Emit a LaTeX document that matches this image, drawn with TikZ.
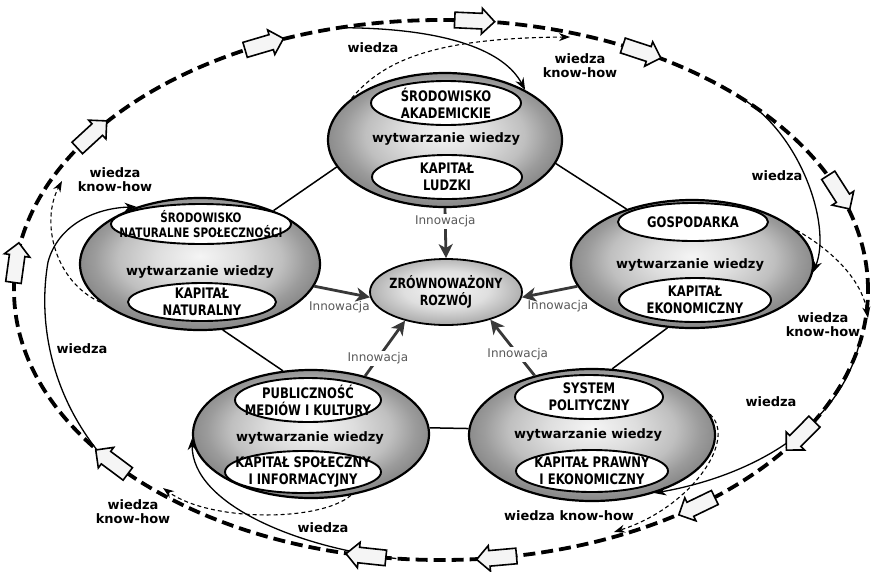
\documentclass[tikz,border=0pt]{standalone}
\usepackage{fontspec}
\setmainfont{DejaVu Sans}
\newfontfamily\capsfont{DejaVu Sans}[FakeStretch=0.8]
\usetikzlibrary{shapes.geometric,shapes.arrows,arrows.meta,calc}
\pgfdeclareradialshading{glossy}{\pgfpoint{0bp}{3bp}}{color(0bp)=(gray!8); color(9bp)=(gray!26); color(17bp)=(gray!50); color(22bp)=(gray!78); color(25bp)=(gray!90); color(50bp)=(gray!90)}
\pgfdeclareradialshading{glossyc}{\pgfpoint{0bp}{3bp}}{color(0bp)=(gray!8); color(14bp)=(gray!25); color(25bp)=(gray!62); color(50bp)=(gray!62)}
\begin{document}
\begin{tikzpicture}[x=1pt,y=-1pt,
  bignode/.style={ellipse, draw=black, line width=2.2pt, shading=glossy, inner sep=0pt},
  cennode/.style={ellipse, draw=black, line width=1.8pt, shading=glossyc, inner sep=0pt, minimum width=152pt, minimum height=66pt},
  innernode/.style={ellipse, draw=black, fill=white, line width=1.9pt, inner sep=0pt},
  captxt/.style={font=\capsfont\bfseries\fontsize{14.5}{17}\selectfont, align=center, inner sep=0pt},
  wyt/.style={font=\bfseries\fontsize{13}{15}\selectfont, inner sep=1pt},
  lab/.style={font=\bfseries\fontsize{13}{14}\selectfont, align=center, inner sep=1pt},
  inn/.style={font=\fontsize{12}{14}\selectfont, text=black!65, inner sep=1.5pt},
  innarrow/.style={draw=black!78, line width=2.8pt, -{Stealth[length=14pt,width=14pt,inset=4pt]}},
  linkline/.style={line width=1.5pt},
  ringline/.style={line width=3.8pt, dash pattern=on 12pt off 6pt},
  flow/.style={line width=1.3pt, -{Stealth[length=12pt,width=9pt]}},
  khflow/.style={line width=1.1pt, dash pattern=on 4pt off 3pt, -{Stealth[length=11pt,width=8pt]}},
  hollow/.style={single arrow, draw=black, fill=gray!8, line width=1.6pt, minimum height=40pt, minimum width=25pt, single arrow head extend=5pt, inner xsep=0pt, inner ysep=7pt}
]
\fill[white] (0,0) rectangle (874,571);
\useasboundingbox (0,0) rectangle (874,571);

% outer ring
\draw[ringline] (441,290) ellipse [x radius=427pt, y radius=270pt];

% big nodes
\node[bignode, minimum width=234pt, minimum height=134pt] (nT) at (445,140) {};
\node[bignode, minimum width=240pt, minimum height=132pt] (nL) at (200,264) {};
\node[bignode, minimum width=242pt, minimum height=128pt] (nR) at (692,264) {};
\node[bignode, minimum width=236pt, minimum height=128pt] (nBL) at (311,434) {};
\node[bignode, minimum width=246pt, minimum height=132pt] (nBR) at (592,435) {};
\node[cennode] (cen) at (446,292) {};
\node[captxt, font=\capsfont\bfseries\fontsize{14}{17}\selectfont] (cenx) at (446,292) {ZRÓWNOWAŻONY\\ROZWÓJ};

% top node
\node[innernode, minimum width=150pt, minimum height=44pt] (tT) at (446,103) {};
\node[captxt] (tTx) at (tT) {ŚRODOWISKO\\AKADEMICKIE};
\node[wyt] (wT) at (446,139) {wytwarzanie wiedzy};
\node[innernode, minimum width=150pt, minimum height=44pt] (tB) at (447,177) {};
\node[captxt] (tBx) at (tB) {KAPITAŁ\\LUDZKI};

% left node
\node[innernode, minimum width=180pt, minimum height=40pt] (lT) at (201,224) {};
\node[captxt, font=\capsfont\bfseries\fontsize{13}{15.5}\selectfont] (lTx) at (lT) {ŚRODOWISKO\\NATURALNE SPOŁECZNOŚCI};
\node[wyt] (wL) at (200,272) {wytwarzanie wiedzy};
\node[innernode, minimum width=148pt, minimum height=38pt] (lB) at (202,302) {};
\node[captxt] (lBx) at (lB) {KAPITAŁ\\NATURALNY};

% right node
\node[innernode, minimum width=150pt, minimum height=38pt] (rT) at (693,222) {};
\node[captxt] (rTx) at (rT) {GOSPODARKA};
\node[wyt] (wR) at (690,265) {wytwarzanie wiedzy};
\node[innernode, minimum width=152pt, minimum height=44pt] (rB) at (695,300) {};
\node[captxt] (rBx) at (rB) {KAPITAŁ\\EKONOMICZNY};

% bottom-left node
\node[innernode, minimum width=146pt, minimum height=44pt] (blT) at (308,400) {};
\node[captxt] (blTx) at (blT) {PUBLICZNOŚĆ\\MEDIÓW I KULTURY};
\node[wyt] (wBL) at (310,438) {wytwarzanie wiedzy};
\node[innernode, minimum width=156pt, minimum height=42pt] (blB) at (303,472) {};
\node[captxt] (blBx) at (blB) {KAPITAŁ SPOŁECZNY\\I INFORMACYJNY};

% bottom-right node
\node[innernode, minimum width=148pt, minimum height=44pt] (brT) at (589,397) {};
\node[captxt] (brTx) at (brT) {SYSTEM\\POLITYCZNY};
\node[wyt] (wBR) at (588,435) {wytwarzanie wiedzy};
\node[innernode, minimum width=152pt, minimum height=42pt] (brB) at (592,471) {};
\node[captxt] (brBx) at (brB) {KAPITAŁ PRAWNY\\I EKONOMICZNY};

% links between nodes
\draw[linkline] (nL.36) -- (nT.194);
\draw[linkline] (nT.348) -- (nR.140);
\draw[linkline] (nL.289) -- (nBL.114);
\draw[linkline] (nR.249) -- (nBR.73);
\draw[linkline] (nBL.3) -- (nBR.177);

% innovation arrows
\draw[innarrow] (nT.south) -- node[inn, fill=white, pos=0.27] (i1) {Innowacja} (cen.north);
\draw[innarrow] (nL.-11) -- (cen.184) node[inn, pos=0.45, below=7pt] (i2) {Innowacja};
\draw[innarrow] (nR.191) -- (cen.-4) node[inn, pos=0.35, below=7pt] (i3) {Innowacja};
\draw[innarrow] (nBL.47) -- node[inn, fill=white, pos=0.32] (i4) {Innowacja} (cen.215);
\draw[innarrow] (nBR.134) -- node[inn, fill=white, pos=0.38] (i5) {Innowacja} (cen.-32);

% ring points
\coordinate (rgT) at ({441+427*cos(103.7)},{290-270*sin(103.7)});
\coordinate (rgR) at ({441+427*cos(45.6)},{290-270*sin(45.6)});
\coordinate (rgBR) at ({441+427*cos(-12)},{290-270*sin(-12)});
\coordinate (rgBL) at ({441+427*cos(-96)},{290-270*sin(-96)});
\coordinate (rgL) at ({441+427*cos(-143.7)},{290-270*sin(-143.7)});
\coordinate (kT) at (570,37);
\coordinate (kR) at (868,318);
\coordinate (kBR) at (614,532);
\coordinate (kBL) at (163,488);
\coordinate (kL) at (62,181);

% wiedza (solid) flows
\draw[flow] (rgT) .. controls (450,28) and (505,52) .. (nT.32);
\draw[flow] (rgR) .. controls (800,132) and (832,225) .. (nR.-4);
\draw[flow] (rgBR) .. controls (835,435) and (740,478) .. (nBR.-43);
\draw[flow] (rgBL) .. controls (300,548) and (192,505) .. (nBL.182);
\draw[flow] (rgL) .. controls (50,390) and (38,320) .. (48,262) .. controls (58,225) and (95,208) .. (nL.138);

% wiedza know-how (dashed) flows
\draw[khflow] (nT.156) .. controls (385,58) and (440,38) .. (kT);
\draw[khflow] (nR.18) .. controls (832,250) and (862,280) .. (kR);
\draw[khflow] (nBR.10) .. controls (738,440) and (690,508) .. (kBR);
\draw[khflow] (nBL.-57) .. controls (320,522) and (210,522) .. (kBL);
\draw[khflow] (nL.201) .. controls (55,282) and (40,222) .. (kL);

% labels
\node[lab] (l1) at (373,48) {wiedza};
\node[lab] (l2) at (580,66) {wiedza\\know-how};
\node[lab] (l3) at (777,176) {wiedza};
\node[lab] (l4) at (823,325) {wiedza\\know-how};
\node[lab] (l5) at (771,402) {wiedza};
\node[lab] (l6) at (569,516) {wiedza know-how};
\node[lab] (l7) at (323,528) {wiedza};
\node[lab] (l8) at (133,512) {wiedza\\know-how};
\node[lab] (l9) at (82,349) {wiedza};
\node[lab] (l10) at (115,180) {wiedza\\know-how};

% hollow arrows on the ring
\foreach \t [count=\i] in {175,145.5,115,86,62.5,22,-32,-52.6,-82,-99.6,-139.8} {
  \node[hollow, rotate={atan2(-270*cos(\t),427*sin(\t))}] (ha\i) at ({441+427*cos(\t)},{290-270*sin(\t)}) {};
}
\end{tikzpicture}
\end{document}
